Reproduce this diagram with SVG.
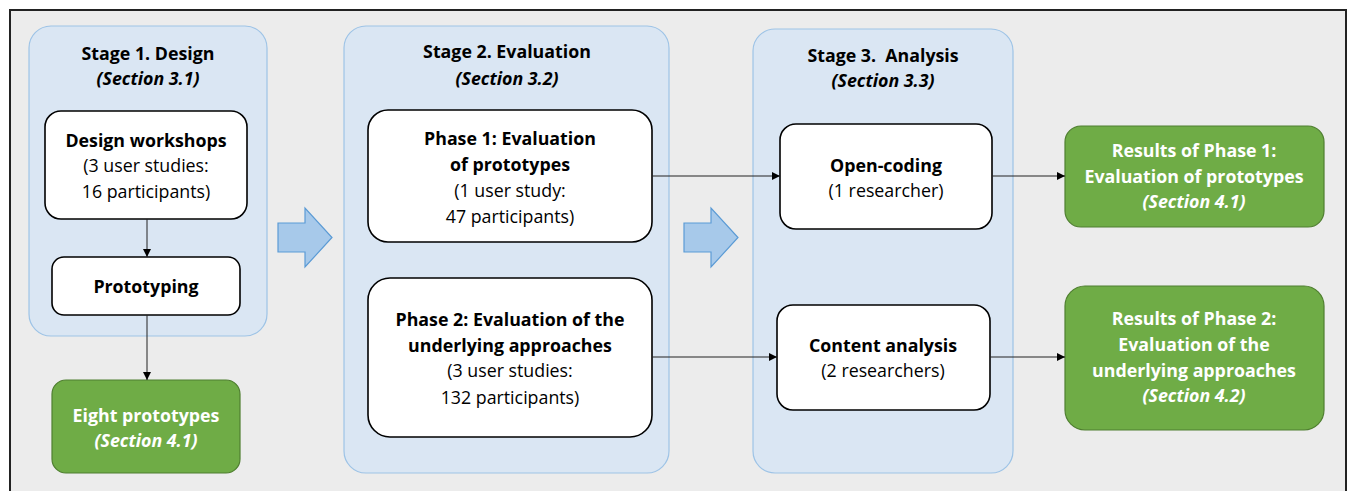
<svg xmlns="http://www.w3.org/2000/svg" width="1349" height="491" viewBox="0 0 1349 491">
<style>
text{font-family:"Open Sans","Liberation Sans",sans-serif;font-size:17.8px;text-anchor:middle;fill:#000}
.b{font-weight:bold}
.bi{font-weight:bold;font-style:italic}
.w{fill:#fff}
.stage{fill:#dae6f3;stroke:#9dc3e6;stroke-width:1.2}
.box{fill:#fff;stroke:#000;stroke-width:1.6}
.res{fill:#6fac46;stroke:#4f7f30;stroke-width:1.2}
.blk{fill:#a7c9ea;stroke:#5b9bd5;stroke-width:1.2}
.con{stroke:#222;stroke-width:1;fill:none;marker-end:url(#ah)}
</style>
<defs>
<marker id="ah" viewBox="0 0 10 10" refX="10" refY="5" markerWidth="8" markerHeight="8" markerUnits="userSpaceOnUse" orient="auto">
<path d="M0,0 L10,5 L0,10 z" fill="#000"/>
</marker>
</defs>
<rect x="0" y="0" width="1349" height="491" fill="#fff"/>
<rect x="10" y="10" width="1336" height="490" fill="#ececec" stroke="#222" stroke-width="2"/>

<g id="stage1">
<rect class="stage" x="29" y="26" width="238" height="310" rx="22"/>
<text class="b" x="148" y="60">Stage 1. Design</text>
<text class="bi" x="148" y="85">(Section 3.1)</text>
</g>
<g id="design-workshops">
<rect class="box" x="45" y="111" width="202" height="108" rx="16"/>
<text class="b" x="146" y="147">Design workshops</text>
<text x="146" y="172">(3 user studies:</text>
<text x="146" y="198">16 participants)</text>
</g>
<g id="prototyping">
<rect class="box" x="52" y="257" width="188" height="58" rx="12"/>
<text class="b" x="146" y="293">Prototyping</text>
</g>
<g id="eight-prototypes">
<rect class="res" x="52" y="380" width="188" height="93" rx="14"/>
<text class="b w" x="146" y="422">Eight prototypes</text>
<text class="bi w" x="146" y="447">(Section 4.1)</text>
</g>

<g id="arrow1">
<path class="blk" d="M278,223 H305 V208 L332,237.5 L305,267 V252 H278 Z"/>
</g>

<g id="stage2">
<rect class="stage" x="344" y="26" width="325" height="447" rx="22"/>
<text class="b" x="507" y="58">Stage 2. Evaluation</text>
<text class="bi" x="507" y="85">(Section 3.2)</text>
</g>
<g id="phase1">
<rect class="box" x="368" y="110" width="284" height="132" rx="20"/>
<text class="b" x="510" y="145">Phase 1: Evaluation</text>
<text class="b" x="510" y="171">of prototypes</text>
<text x="510" y="197">(1 user study:</text>
<text x="510" y="223">47 participants)</text>
</g>
<g id="phase2">
<rect class="box" x="368" y="278" width="284" height="159" rx="22"/>
<text class="b" x="510" y="326">Phase 2: Evaluation of the</text>
<text class="b" x="510" y="352">underlying approaches</text>
<text x="510" y="377">(3 user studies:</text>
<text x="510" y="404">132 participants)</text>
</g>

<g id="arrow2">
<path class="blk" d="M684,223 H711 V208 L738,237.5 L711,267 V252 H684 Z"/>
</g>

<g id="stage3">
<rect class="stage" x="753" y="29" width="260" height="444" rx="22"/>
<text class="b" x="883" y="62" xml:space="preserve">Stage 3.  Analysis</text>
<text class="bi" x="883" y="87">(Section 3.3)</text>
</g>
<g id="open-coding">
<rect class="box" x="780" y="124" width="212" height="105" rx="16"/>
<text class="b" x="886" y="172">Open-coding</text>
<text x="886" y="197">(1 researcher)</text>
</g>
<g id="content-analysis">
<rect class="box" x="777" y="305" width="213" height="105" rx="16"/>
<text class="b" x="883" y="352">Content analysis</text>
<text x="883" y="377">(2 researchers)</text>
</g>

<g id="results1">
<rect class="res" x="1065" y="126" width="259" height="101" rx="16"/>
<text class="b w" x="1194" y="157">Results of Phase 1:</text>
<text class="b w" x="1194" y="183">Evaluation of prototypes</text>
<text class="bi w" x="1194" y="208">(Section 4.1)</text>
</g>
<g id="results2">
<rect class="res" x="1065" y="286" width="259" height="144" rx="20"/>
<text class="b w" x="1194" y="325">Results of Phase 2:</text>
<text class="b w" x="1194" y="351">Evaluation of the</text>
<text class="b w" x="1194" y="377">underlying approaches</text>
<text class="bi w" x="1194" y="402">(Section 4.2)</text>
</g>

<g id="connectors">
<line class="con" x1="147" y1="219" x2="147" y2="257"/>
<line class="con" x1="147" y1="315" x2="147" y2="380"/>
<line class="con" x1="652" y1="176" x2="780" y2="176"/>
<line class="con" x1="652" y1="357" x2="777" y2="357"/>
<line class="con" x1="992" y1="176" x2="1065" y2="176"/>
<line class="con" x1="990" y1="357" x2="1065" y2="357"/>
</g>
</svg>
